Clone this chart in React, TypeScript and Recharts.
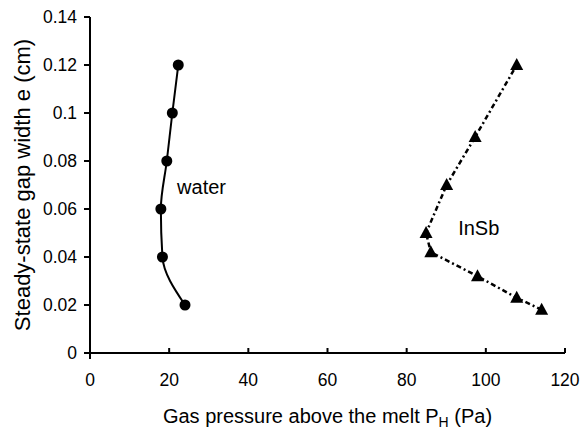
import React from 'react';
import { ScatterChart, Scatter, XAxis, YAxis, ReferenceDot } from 'recharts';

// Water series (gas pressure in Pa, gap width in cm)
const waterPressure = [24.0, 18.3, 17.9, 19.4, 20.8, 22.3];
const waterGap = [0.02, 0.04, 0.06, 0.08, 0.1, 0.12];

// InSb series
const insbPressure = [114.1, 107.8, 97.9, 86.1, 84.9, 90.1, 97.3, 107.8];
const insbGap = [0.018, 0.023, 0.032, 0.042, 0.05, 0.07, 0.09, 0.12];

const xTicks = [0, 20, 40, 60, 80, 100, 120];
const yTicks = [0, 0.02, 0.04, 0.06, 0.08, 0.1, 0.12, 0.14];

const seriesLabels = [
  { name: 'water', x: 22.0, y: 0.0661 },
  { name: 'InSb', x: 93.0, y: 0.0492 },
];

const waterData = waterPressure.map((p, i) => ({ p, e: waterGap[i] }));
const insbData = insbPressure.map((p, i) => ({ p, e: insbGap[i] }));

const FONT = 'Liberation Sans, Arial, sans-serif';
const TICK_FS = 17.5;

const Dot = (props: any) => <circle cx={props.cx} cy={props.cy} r={5.5} fill="#000" />;
const Tri = (props: any) => {
  const { cx, cy } = props;
  return (
    <polygon
      points={`${cx},${cy - 7} ${cx - 6.5},${cy + 5} ${cx + 6.5},${cy + 5}`}
      fill="#000"
    />
  );
};

const XTick = (props: any) => {
  const { x, y, payload } = props;
  return (
    <g>
      <line x1={x} y1={y} x2={x} y2={payload.value === 0 ? y + 6 : y - 5} stroke="#000" strokeWidth={2} />
      <text x={x} y={y + 33} textAnchor="middle" fontSize={TICK_FS} fontFamily={FONT} fill="#000">
        {payload.value}
      </text>
    </g>
  );
};

const XTitle = (props: any) => {
  const vb = props.viewBox || { x: 82, y: 345, width: 475, height: 77 };
  const cx = vb.x + vb.width / 2;
  return (
    <text x={cx} y={vb.y + 70} textAnchor="middle" fontSize={20} fontFamily={FONT} fill="#000">
      Gas pressure above the melt P
      <tspan fontSize={14} dy={4}>H</tspan>
      <tspan dy={-4}> (Pa)</tspan>
    </text>
  );
};

const YTitle = (props: any) => {
  const vb = props.viewBox || { x: 0, y: 9, width: 82, height: 336 };
  const cx = 22;
  const cy = vb.y + vb.height / 2;
  return (
    <text
      x={cx}
      y={cy}
      transform={`rotate(-90, ${cx}, ${cy})`}
      textAnchor="middle"
      fontSize={22}
      fontFamily={FONT}
      fill="#000"
    >
      Steady-state gap width e (cm)
    </text>
  );
};

const SeriesLabel = (text: string) => (props: any) => {
  const vb = props.viewBox || {};
  const x = vb.cx !== undefined ? vb.cx : vb.x + (vb.width || 0) / 2;
  const y = vb.cy !== undefined ? vb.cy : vb.y + (vb.height || 0) / 2;
  return (
    <text x={x} y={y} fontSize={20} fontFamily={FONT} fill="#000">
      {text}
    </text>
  );
};

export default function App() {
  return (
    <div style={{ position: 'absolute', left: 8, top: 8 }}>
      <ScatterChart
        width={573}
        height={422}
        margin={{ top: 9, right: 16, left: 0, bottom: 0 }}
        style={{ background: '#fff', overflow: 'visible' }}
      >
        <XAxis
          type="number"
          dataKey="p"
          domain={[0, 120]}
          ticks={xTicks}
          interval={0}
          height={77}
          axisLine={{ stroke: '#000', strokeWidth: 2 }}
          tickLine={false}
          tickSize={0}
          tickMargin={0}
          tick={<XTick />}
          label={<XTitle />}
        />
        <YAxis
          type="number"
          dataKey="e"
          domain={[0, 0.14]}
          ticks={yTicks}
          interval={0}
          width={82}
          axisLine={{ stroke: '#000', strokeWidth: 2 }}
          tickLine={{ stroke: '#000', strokeWidth: 2 }}
          tickSize={6}
          tickMargin={7}
          tick={{ fontSize: TICK_FS, fontFamily: FONT, fill: '#000' }}
          label={<YTitle />}
        />
        <Scatter
          data={waterData}
          isAnimationActive={false}
          line={{ stroke: '#000', strokeWidth: 2 }}
          lineJointType="monotoneY"
          shape={Dot}
        />
        <Scatter
          data={insbData}
          isAnimationActive={false}
          line={{ stroke: '#000', strokeWidth: 2.5, strokeDasharray: '5 3 2 3' }}
          lineJointType="linear"
          shape={Tri}
        />
        {seriesLabels.map((l) => (
          <ReferenceDot
            key={l.name}
            x={l.x}
            y={l.y}
            r={0}
            fill="none"
            stroke="none"
            label={SeriesLabel(l.name)}
          />
        ))}
      </ScatterChart>
    </div>
  );
}
